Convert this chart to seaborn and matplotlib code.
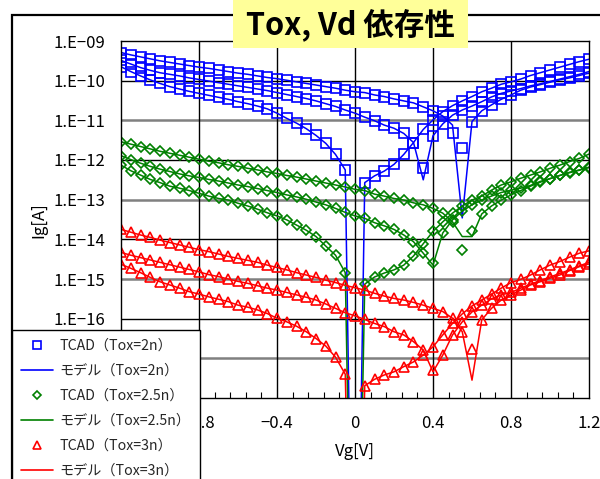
import numpy as np
import pandas as pd
import matplotlib
matplotlib.use("Agg")
import matplotlib.pyplot as plt
from matplotlib.lines import Line2D
from matplotlib.patches import Rectangle
from matplotlib.ticker import FixedLocator, MultipleLocator, NullFormatter, NullLocator
import seaborn as sns

# Gate voltage sweep (V), 0.05 V step
VG = np.linspace(-1.2, 1.2, 49)

# log10(Ig [A]) of the TCAD results, three drain biases per oxide thickness.
# Bias "a" crosses zero at Vg = 0 (no point there).
TCAD_2N_A = [-9.65, -9.77, -9.88, -9.98, -10.07, -10.15, -10.21, -10.27, -10.32, -10.37, -10.42, -10.47,
             -10.53, -10.58, -10.64, -10.71, -10.82, -10.95, -11.07, -11.21, -11.38, -11.58, -11.86, -12.25,
             np.nan,
             -12.57, -12.40, -12.28, -12.11, -11.86, -11.56, -11.23, -10.99, -10.78, -10.63, -10.51, -10.40,
             -10.28, -10.19, -10.09, -10.03, -9.96, -9.87, -9.80, -9.73, -9.66, -9.59, -9.52, -9.46]
TCAD_2N_B = [-9.49, -9.58, -9.67, -9.74, -9.80, -9.84, -9.88, -9.93, -9.97, -10.01, -10.05, -10.09,
             -10.13, -10.17, -10.21, -10.25, -10.30, -10.35, -10.40, -10.45, -10.51, -10.58, -10.65, -10.74,
             -10.82,
             -10.92, -11.01, -11.12, -11.20, -11.33, -11.56, -12.21, -11.39, -11.09, -10.87, -10.74, -10.64,
             -10.53, -10.41, -10.32, -10.26, -10.20, -10.13, -10.08, -10.02, -9.96, -9.90, -9.84, -9.77]
TCAD_2N_C = [-9.29, -9.35, -9.40, -9.45, -9.50, -9.54, -9.58, -9.62, -9.66, -9.69, -9.73, -9.77,
             -9.81, -9.84, -9.88, -9.92, -9.95, -9.99, -10.03, -10.07, -10.11, -10.15, -10.19, -10.24,
             -10.28,
             -10.30, -10.36, -10.40, -10.46, -10.51, -10.56, -10.66, -10.76, -10.89, -11.32, -11.70, -11.03,
             -10.76, -10.61, -10.47, -10.36, -10.24, -10.16, -10.10, -10.04, -9.98, -9.93, -9.87, -9.81]

TCAD_25N_A = [-12.13, -12.27, -12.38, -12.49, -12.57, -12.66, -12.71, -12.77, -12.84, -12.91, -12.97, -13.01,
              -13.09, -13.16, -13.24, -13.33, -13.41, -13.51, -13.64, -13.77, -13.93, -14.17, -14.40, -14.84,
              np.nan,
              -15.13, -14.95, -14.85, -14.77, -14.65, -14.42, -14.11, -13.80, -13.56, -13.34, -13.16, -13.01,
              -12.91, -12.76, -12.63, -12.55, -12.46, -12.38, -12.30, -12.21, -12.13, -12.04, -11.96, -11.85]
TCAD_25N_B = [-11.89, -11.99, -12.08, -12.16, -12.23, -12.29, -12.35, -12.40, -12.44, -12.49, -12.53, -12.58,
              -12.63, -12.67, -12.72, -12.77, -12.82, -12.88, -12.93, -12.99, -13.06, -13.13, -13.22, -13.32,
              -13.41,
              -13.47, -13.58, -13.66, -13.75, -13.89, -14.06, -14.35, -14.59, -13.84, -13.51, -13.29, -13.13,
              -13.01, -12.91, -12.82, -12.76, -12.71, -12.64, -12.54, -12.47, -12.39, -12.32, -12.26, -12.19]
TCAD_25N_C = [-11.54, -11.60, -11.66, -11.72, -11.78, -11.83, -11.88, -11.93, -11.98, -12.03, -12.07, -12.12,
              -12.16, -12.21, -12.25, -12.30, -12.34, -12.39, -12.43, -12.48, -12.53, -12.58, -12.63, -12.68,
              -12.74,
              -12.77, -12.86, -12.91, -12.97, -13.01, -13.08, -13.13, -13.22, -13.34, -13.56, -14.27, -13.78,
              -13.36, -13.16, -13.01, -12.88, -12.77, -12.66, -12.56, -12.47, -12.39, -12.31, -12.25, -12.18]

TCAD_3N_A = [-14.63, -14.73, -14.84, -14.96, -15.07, -15.15, -15.23, -15.32, -15.38, -15.45, -15.51, -15.57,
             -15.66, -15.71, -15.78, -15.87, -15.99, -16.08, -16.19, -16.33, -16.50, -16.69, -16.97, -17.40,
             np.nan,
             -17.69, -17.53, -17.42, -17.34, -17.21, -17.09, -16.92, -16.71, -16.41, -16.12, -15.88, -15.68,
             -15.53, -15.38, -15.23, -15.09, -15.01, -14.90, -14.77, -14.65, -14.56, -14.45, -14.35, -14.29]
TCAD_3N_B = [-14.33, -14.40, -14.46, -14.52, -14.58, -14.64, -14.70, -14.76, -14.82, -14.89, -14.94, -15.00,
             -15.06, -15.11, -15.17, -15.23, -15.28, -15.34, -15.40, -15.46, -15.53, -15.63, -15.74, -15.85,
             -15.93,
             -16.02, -16.12, -16.20, -16.33, -16.41, -16.58, -16.79, -17.29, -16.92, -16.41, -16.08, -15.83,
             -15.66, -15.50, -15.40, -15.34, -15.23, -15.13, -15.04, -14.95, -14.86, -14.77, -14.67, -14.58]
TCAD_3N_C = [-13.75, -13.82, -13.89, -13.95, -14.02, -14.08, -14.14, -14.20, -14.26, -14.31, -14.37, -14.43,
             -14.48, -14.53, -14.58, -14.65, -14.71, -14.77, -14.84, -14.90, -14.96, -15.03, -15.09, -15.16,
             -15.22,
             -15.28, -15.36, -15.43, -15.49, -15.53, -15.59, -15.66, -15.74, -15.82, -15.99, -16.33, -16.77,
             -16.03, -15.74, -15.53, -15.40, -15.28, -15.15, -15.07, -14.98, -14.90, -14.79, -14.69, -14.62]

# Model curves follow the TCAD points except at these gate voltages (V -> log10 Ig)
MODEL_2N_A = {0.0: -28.0}
MODEL_2N_B = {0.35: -12.50}
MODEL_2N_C = {0.50: -11.12, 0.55: -13.46}
MODEL_25N_A = {0.0: -28.0}
MODEL_25N_B = {0.40: -14.65}
MODEL_25N_C = {0.55: -13.93, 0.60: -13.93}
MODEL_3N_A = {0.0: -28.0}
MODEL_3N_B = {0.40: -17.34}
MODEL_3N_C = {0.60: -17.55}

TOX_LABELS = ["2n", "2.5n", "3n"]
COLORS = ["#0000FF", "#008000", "#FF0000"]
MARKERS = ["s", "D", "^"]
MARKER_SIZES = [6.5, 4.6, 6.8]

GROUPS = [
    [(TCAD_2N_A, MODEL_2N_A), (TCAD_2N_B, MODEL_2N_B), (TCAD_2N_C, MODEL_2N_C)],
    [(TCAD_25N_A, MODEL_25N_A), (TCAD_25N_B, MODEL_25N_B), (TCAD_25N_C, MODEL_25N_C)],
    [(TCAD_3N_A, MODEL_3N_A), (TCAD_3N_B, MODEL_3N_B), (TCAD_3N_C, MODEL_3N_C)],
]

Y_DECADES = list(range(-9, -19, -1))
Y_TICK_LABELS = ["1.E\u221209", "1.E\u221210", "1.E\u221211", "1.E\u221212", "1.E\u221213",
                 "1.E\u221214", "1.E\u221215", "1.E\u221216", "", ""]
X_TICKS = [-1.2, -0.8, -0.4, 0.0, 0.4, 0.8, 1.2]
X_TICK_LABELS = ["", "\u22120.8", "\u22120.4", "0", "0.4", "0.8", "1.2"]

sns.set_theme(style="white")
FONT = ["Noto Sans CJK JP", "DejaVu Sans"]
plt.rcParams["font.family"] = FONT

W, H = 600, 479
fig = plt.figure(figsize=(W / 100, H / 100), dpi=100)
fig.patch.set_facecolor("white")

# outer frame of the panel
fig.add_artist(Rectangle((12 / W, -0.2), 1.2, 1 - 15 / H + 0.2, transform=fig.transFigure,
                         fill=False, edgecolor="black", linewidth=1.6, zorder=0))

ax = fig.add_axes([121 / W, 1 - 398 / H, 468 / W, 357 / H])
ax.set_yscale("log")
ax.set_xlim(-1.2, 1.2)
ax.set_ylim(1e-18, 1e-9)

# alternating black / grey decade lines and black voltage lines
for k, d in enumerate(Y_DECADES[1:-1]):
    if k % 2 == 0:
        ax.axhline(10.0 ** d, color="black", linewidth=1.0, zorder=1)
    else:
        ax.axhline(10.0 ** d, color="#808080", linewidth=1.8, zorder=1)
for xv in X_TICKS[1:-1]:
    ax.axvline(xv, color="black", linewidth=1.0, zorder=1)

for color, marker, msize, curves in zip(COLORS, MARKERS, MARKER_SIZES, GROUPS):
    for tcad, model_fix in curves:
        tcad_arr = np.array(tcad, dtype=float)
        model_arr = tcad_arr.copy()
        for v, val in model_fix.items():
            model_arr[int(round((v + 1.2) / 0.05))] = val
        df_model = pd.DataFrame({"Vg": VG, "Ig": 10.0 ** model_arr})
        df_tcad = pd.DataFrame({"Vg": VG, "Ig": 10.0 ** tcad_arr}).dropna()
        sns.lineplot(data=df_model, x="Vg", y="Ig", ax=ax, color=color, linewidth=1.1,
                     estimator=None, sort=False, legend=False, zorder=3)
        sns.lineplot(data=df_tcad, x="Vg", y="Ig", ax=ax, color=color, linestyle="",
                     marker=marker, markersize=msize, markerfacecolor="none",
                     markeredgecolor=color, markeredgewidth=1.2,
                     estimator=None, sort=False, legend=False, zorder=4)

ax.yaxis.set_major_locator(FixedLocator([10.0 ** d for d in Y_DECADES]))
ax.yaxis.set_minor_locator(NullLocator())
ax.set_yticklabels(Y_TICK_LABELS)
ax.xaxis.set_major_locator(FixedLocator(X_TICKS))
ax.set_xticklabels(X_TICK_LABELS)
ax.xaxis.set_minor_locator(MultipleLocator(0.08))
ax.xaxis.set_minor_formatter(NullFormatter())
ax.tick_params(axis="x", which="major", length=0, pad=12, labelsize=12, colors="black")
ax.tick_params(axis="x", which="minor", direction="in", length=4, width=0.8, color="black", bottom=True)
ax.tick_params(axis="y", which="major", length=0, pad=11, labelsize=12, colors="black")
for sp in ax.spines.values():
    sp.set_visible(True)
    sp.set_color("black")
    sp.set_linewidth(1.0)
    sp.set_zorder(5)

ax.set_xlabel("Vg[V]", fontsize=12, color="black")
ax.set_ylabel("Ig[A]", fontsize=12, color="black")
ax.xaxis.set_label_coords((355 - 121) / 468, -(443 - 398) / 357)
ax.yaxis.set_label_coords(-(121 - 47) / 468, (398 - 220) / 357)

# title box
fig.add_artist(Rectangle((233 / W, 1 - 48 / H), (468 - 233) / W, 48 / H, transform=fig.transFigure,
                         facecolor="#FFFF99", edgecolor="none", zorder=6))
fig.text(350 / W, 1 - 25 / H, "Tox, Vd 依存性", ha="center", va="center", fontsize=22,
         fontweight="bold", color="black", zorder=7)

handles, labels = [], []
for color, marker, msize, tox in zip(COLORS, MARKERS, MARKER_SIZES, TOX_LABELS):
    handles.append(Line2D([], [], linestyle="", marker=marker, markersize=msize * 0.8,
                          markerfacecolor="none", markeredgecolor=color, markeredgewidth=1.2))
    labels.append("TCAD（Tox=%s）" % tox)
    handles.append(Line2D([], [], color=color, linewidth=1.2))
    labels.append("モデル（Tox=%s）" % tox)

leg = fig.legend(handles, labels, loc="upper left", bbox_to_anchor=(12 / W, 1 - 330 / H),
                 frameon=True, fancybox=False, framealpha=1, edgecolor="black", facecolor="white",
                 fontsize=10.2, labelspacing=0.78, handlelength=2.3, handletextpad=0.45,
                 borderpad=0.62, borderaxespad=0)
leg.get_frame().set_linewidth(1.0)
leg.set_zorder(10)

fig.savefig("out.png", dpi=100)
